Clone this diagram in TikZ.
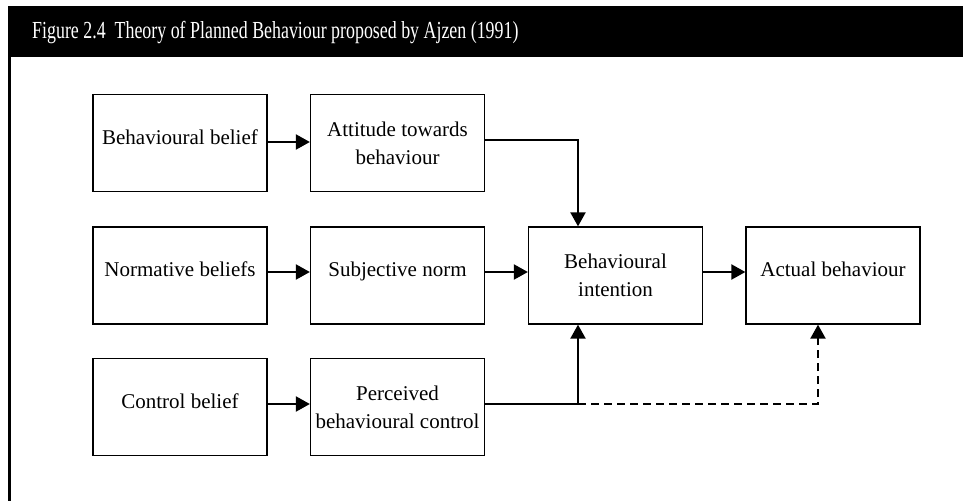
\documentclass[tikz,border=0pt]{standalone}
\usepackage{fontspec}
\setmainfont{Liberation Serif}
\newfontfamily\headfont[FakeStretch=0.73]{Liberation Serif}
\usetikzlibrary{arrows.meta}

\begin{document}
\begin{tikzpicture}[x=1pt,y=-1pt,
  box/.style={draw,line width=1.3pt,minimum width=174pt,minimum height=97pt,
    align=center,inner sep=2pt,font=\fontsize{21}{28}\selectfont},
  oneline/.style={text depth=12pt},
  flow/.style={line width=2.2pt},
  link/.style={flow,-{Triangle[length=14pt,width=15pt]}},
]
\useasboundingbox (0,0) rectangle (963,501);

% heading bar and left rule
\fill[black] (8.3,6) rectangle (963,57);
\node[anchor=base west,text=white,inner sep=0pt,
  font=\headfont\fontsize{24.5}{28}\selectfont] (title) at (32,38)
  {Figure 2.4\ \ Theory of Planned Behaviour proposed by Ajzen (1991)};
\draw[line width=2.7pt] (9.7,57) -- (9.7,501);

% boxes
\node[box,oneline] (bb) at (180,143) {Behavioural belief};
\node[box] (att) at (397.5,143) {Attitude towards\\behaviour};
\node[box,oneline] (nb) at (180,275.5) {Normative beliefs};
\node[box,oneline] (sn) at (397.5,275.5) {Subjective norm};
\node[box,oneline] (cb) at (180,407) {Control belief};
\node[box] (pbc) at (397.5,407) {Perceived\\behavioural control};
\node[box] (bi) at (615.5,275.5) {Behavioural\\intention};
\node[box,oneline] (ab) at (833,275.5) {Actual behaviour};

% connectors
\draw[link] ([yshift=1pt]bb.east) -- ([yshift=1pt]att.west);
\draw[link] ([yshift=3pt]att.east) -| ([xshift=-37.5pt]bi.north);
\draw[link] ([yshift=3.5pt]nb.east) -- ([yshift=3.5pt]sn.west);
\draw[link] ([yshift=3.5pt]sn.east) -- ([yshift=3.5pt]bi.west);
\draw[link] ([yshift=3.5pt]bi.east) -- ([yshift=3.5pt]ab.west);
\draw[link] ([yshift=3pt]cb.east) -- ([yshift=3pt]pbc.west);
\coordinate (split) at (578,404);
\draw[flow] ([yshift=3pt]pbc.east) -- (split);
\draw[link] (split) -- (split |- bi.south);
\draw[link,dash pattern=on 8pt off 5pt] (split) -| ([xshift=-15pt]ab.south);
\end{tikzpicture}
\end{document}
